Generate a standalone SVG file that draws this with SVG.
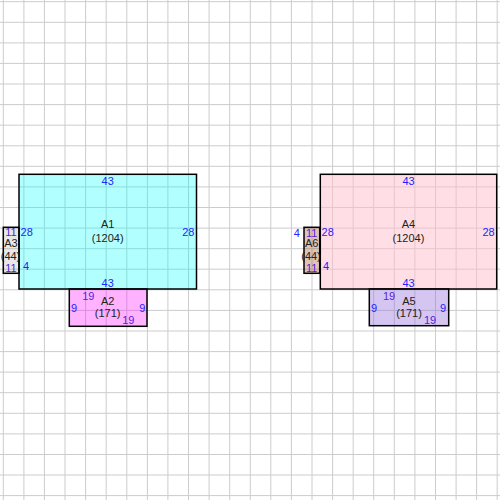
<svg xmlns="http://www.w3.org/2000/svg" width="500" height="500" viewBox="0 0 500 500">
<style>
.grid{stroke:#cccccc;stroke-width:1;fill:none}
.box{stroke:#000;stroke-width:1.5}
.lbl{font-family:"Liberation Sans",Arial,sans-serif;font-size:11px;text-anchor:middle}
.name{fill:#222}
.dim{fill:#2323ff}
.dim2{fill:#5522dd}
</style>
<rect x="0" y="0" width="500" height="500" fill="#ffffff"/>
<path class="grid" d="M3.3 0V500M23.9 0V500M44.4 0V500M65 0V500M85.6 0V500M106.2 0V500M126.8 0V500M147.4 0V500M167.9 0V500M188.5 0V500M209.1 0V500M229.7 0V500M250.3 0V500M270.8 0V500M291.4 0V500M312 0V500M332.6 0V500M353.2 0V500M373.7 0V500M394.3 0V500M414.9 0V500M435.5 0V500M456.1 0V500M476.6 0V500M497.2 0V500M0 1.7H500M0 22.3H500M0 42.9H500M0 63.4H500M0 84H500M0 104.6H500M0 125.2H500M0 145.8H500M0 166.3H500M0 186.9H500M0 207.5H500M0 228.1H500M0 248.7H500M0 269.2H500M0 289.8H500M0 310.4H500M0 331H500M0 351.6H500M0 372.1H500M0 392.7H500M0 413.3H500M0 433.9H500M0 454.5H500M0 475H500M0 495.6H500"/>
<g id="connectors"></g>
<g id="A1">
<rect class="box" x="19" y="174.3" width="177.5" height="114.7" fill="#00ffff" fill-opacity="0.3"/>
<text class="lbl dim" x="107.7" y="185">43</text>
<text class="lbl dim" x="26.7" y="235.7">28</text>
<text class="lbl dim" x="188.3" y="235.7">28</text>
<text class="lbl dim" x="107.7" y="287.3">43</text>
<text class="lbl dim" x="26" y="270">4</text>
<text class="lbl name" x="107.7" y="228">A1</text>
<text class="lbl name" x="107.7" y="242.3">(1204)</text>
</g>
<g id="A2">
<rect class="box" x="69.3" y="289" width="77.7" height="37.3" fill="#ff00ff" fill-opacity="0.3"/>
<text class="lbl dim2" x="88.3" y="300">19</text>
<text class="lbl name" x="107.7" y="305">A2</text>
<text class="lbl name" x="107.7" y="317.3">(171)</text>
<text class="lbl dim" x="74" y="311.7">9</text>
<text class="lbl dim" x="142.3" y="311.7">9</text>
<text class="lbl dim2" x="128.3" y="324">19</text>
</g>
<g id="A3">
<rect class="box" x="3.3" y="227.3" width="15.7" height="46" fill="#808080" fill-opacity="0.18"/>
<text class="lbl dim2" x="11" y="235.7">11</text>
<text class="lbl name" x="11" y="246.7">A3</text>
<text class="lbl name" x="10.5" y="259.7">(44)</text>
<text class="lbl dim2" x="11" y="271.7">11</text>
</g>
<g id="A4">
<rect class="box" x="320.3" y="174.3" width="176.4" height="114.7" fill="#ffc0cb" fill-opacity="0.5"/>
<text class="lbl dim" x="408.5" y="185">43</text>
<text class="lbl dim" x="327.7" y="235.7">28</text>
<text class="lbl dim" x="488.5" y="235.7">28</text>
<text class="lbl dim" x="408.5" y="287.3">43</text>
<text class="lbl dim" x="326" y="270">4</text>
<text class="lbl name" x="408.5" y="228">A4</text>
<text class="lbl name" x="408.5" y="242.3">(1204)</text>
</g>
<g id="A5">
<rect class="box" x="369.3" y="289" width="79.4" height="36.7" fill="#9370db" fill-opacity="0.4"/>
<text class="lbl dim2" x="389" y="300">19</text>
<text class="lbl name" x="409" y="305">A5</text>
<text class="lbl name" x="409" y="317.3">(171)</text>
<text class="lbl dim" x="374" y="311.7">9</text>
<text class="lbl dim" x="443" y="311.7">9</text>
<text class="lbl dim2" x="430" y="324">19</text>
</g>
<g id="A6">
<rect class="box" x="304" y="227.3" width="15.7" height="46" fill="#a0522d" fill-opacity="0.35"/>
<text class="lbl dim" x="296.7" y="237.3">4</text>
<text class="lbl dim2" x="311.7" y="236.7">11</text>
<text class="lbl name" x="311.7" y="247.3">A6</text>
<text class="lbl name" x="311" y="259.7">(44)</text>
<text class="lbl dim2" x="311.7" y="271.7">11</text>
</g>
</svg>
